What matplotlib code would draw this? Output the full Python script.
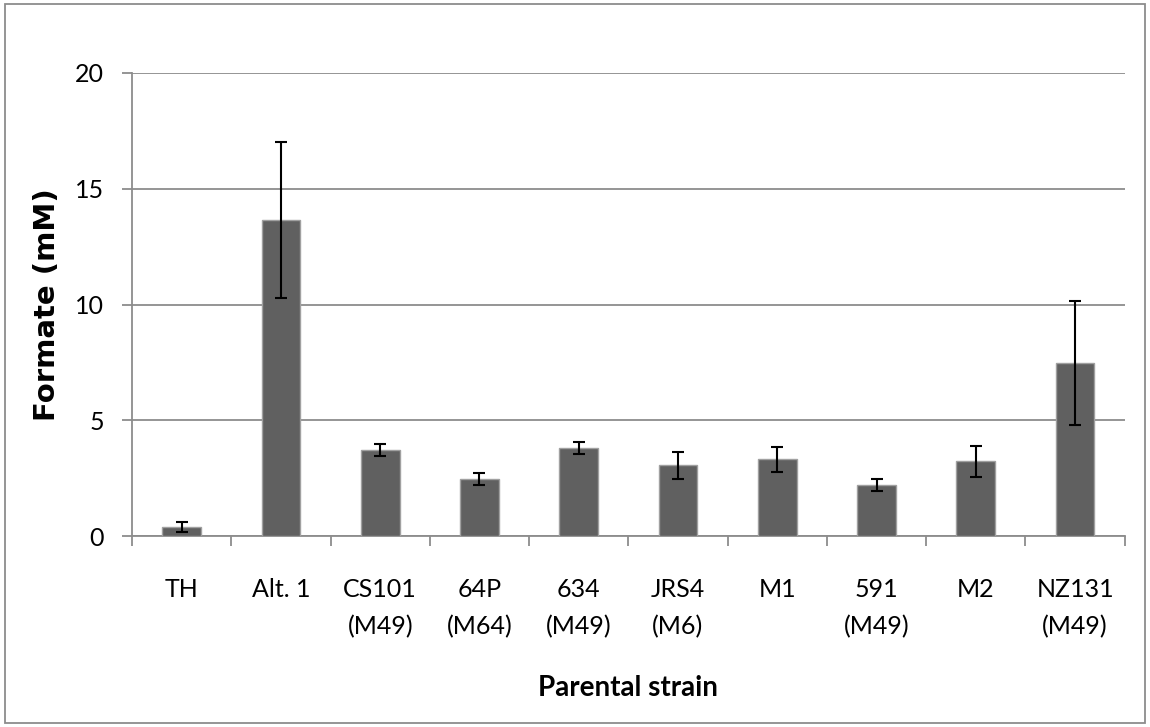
import matplotlib
matplotlib.use("Agg")
import matplotlib.pyplot as plt
from matplotlib.patches import Rectangle
import numpy as np

strains = ["TH", "Alt. 1", "CS101\n(M49)", "64P\n(M64)", "634\n(M49)",
           "JRS4\n(M6)", "M1", "591\n(M49)", "M2", "NZ131\n(M49)"]
formate = [0.38, 13.65, 3.71, 2.46, 3.79, 3.05, 3.31, 2.21, 3.22, 7.49]
err = [0.22, 3.35, 0.26, 0.27, 0.26, 0.59, 0.55, 0.25, 0.68, 2.68]

plt.rcParams['font.family'] = ['Lato', 'DejaVu Sans']

fig = plt.figure(figsize=(11.5, 7.27), dpi=100)
ax = fig.add_axes([0.1148, 0.2627, 0.978 - 0.1148, 0.8996 - 0.2627])

x = np.arange(len(strains))
ax.bar(x, formate, width=0.39, color="#606060", edgecolor="#a0a0a0", linewidth=1, zorder=3)
ax.errorbar(x, formate, yerr=err, fmt="none", ecolor="black", elinewidth=1.5,
            capsize=4.5, capthick=1.5, zorder=4)

ax.set_xlim(-0.5, len(strains) - 0.5)
ax.set_ylim(0, 20)
ax.set_yticks([0, 5, 10, 15, 20])
ax.yaxis.grid(True, color="#8c8c8c", linewidth=1.3, zorder=0)
ax.set_axisbelow(True)

for s in ["top", "right"]:
    ax.spines[s].set_visible(False)
for s in ["left", "bottom"]:
    ax.spines[s].set_color("#8c8c8c")
    ax.spines[s].set_linewidth(1.3)

# category labels centred, ticks on the boundaries
ax.set_xticks(x)
ax.set_xticklabels(strains, fontsize=18, linespacing=1.75)
ax.tick_params(axis="x", length=0, pad=30)
ax.set_xticks(np.arange(len(strains) + 1) - 0.5, minor=True)
ax.tick_params(axis="x", which="minor", length=7, width=1.3, color="#8c8c8c")
ax.tick_params(axis="y", length=7, width=1.3, color="#8c8c8c", labelsize=18, pad=13)

ax.set_ylabel("Formate (mM)", fontsize=21, fontweight="bold", labelpad=10,
              family="DejaVu Sans")
ax.set_xlabel("Parental strain", fontsize=20, fontweight="bold", labelpad=26)

fig.patches.append(Rectangle((0.004, 0.006), 0.992, 0.988, transform=fig.transFigure,
                             fill=False, edgecolor="#8c8c8c", linewidth=1.3))

fig.savefig("out.png", dpi=100)
